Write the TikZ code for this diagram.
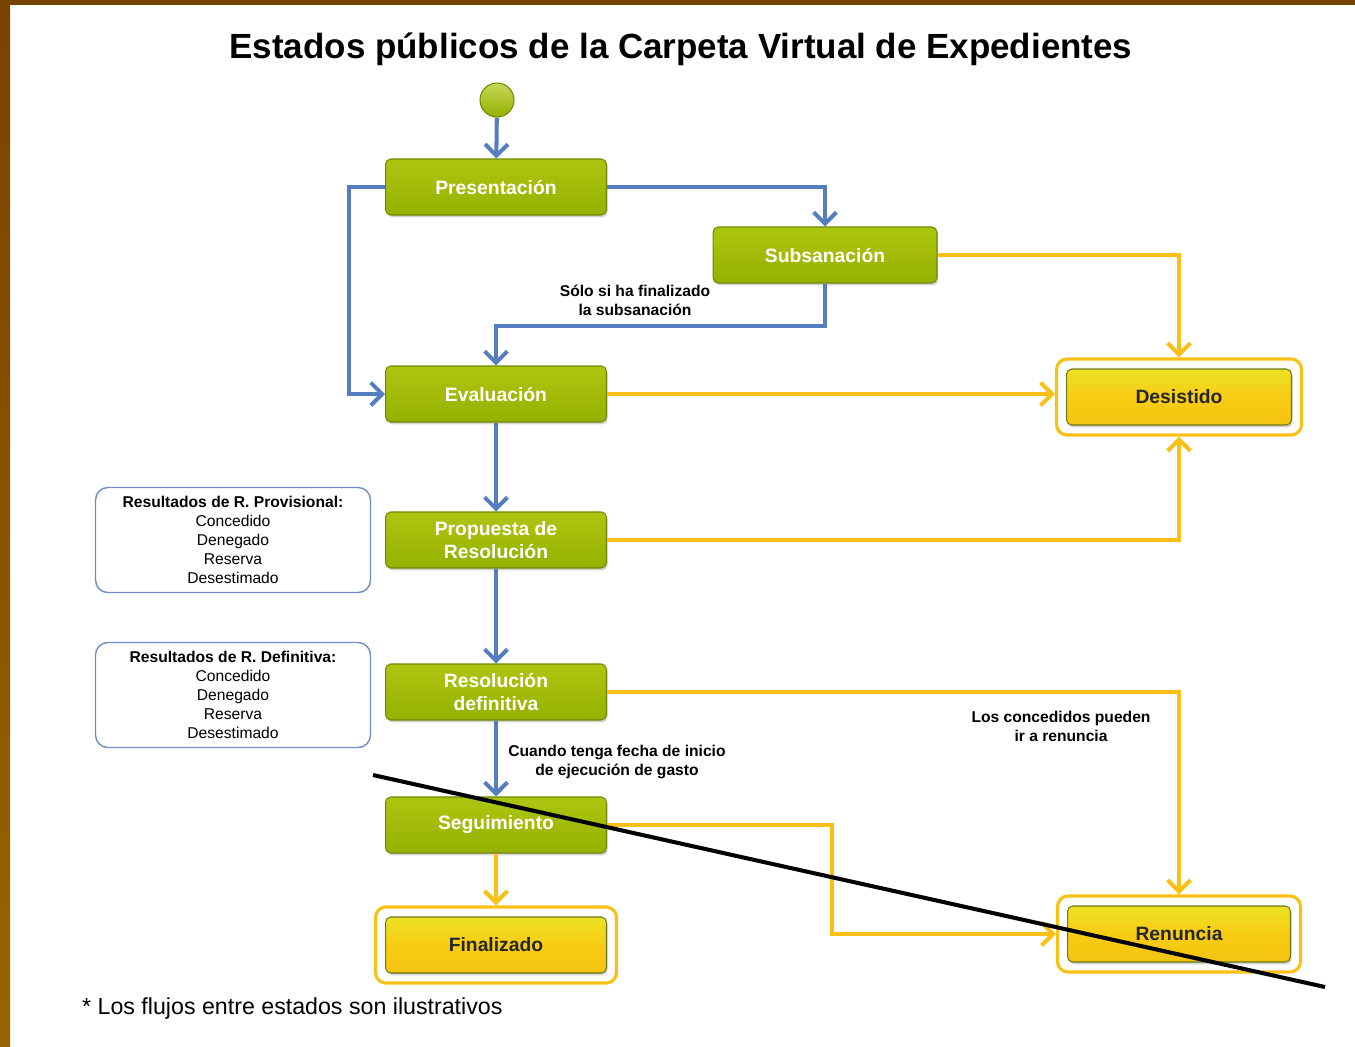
\documentclass[tikz,border=0pt]{standalone}
\usepackage{fontspec}
\setmainfont{Liberation Sans}
\usetikzlibrary{arrows.meta,shadows,fit}
\definecolor{greentop}{RGB}{172,198,16}
\definecolor{greenbot}{RGB}{150,176,0}
\definecolor{greenedge}{RGB}{112,136,0}
\definecolor{yellowtop}{RGB}{236,226,36}
\definecolor{yellowmid}{RGB}{248,204,20}
\definecolor{yellowbot}{RGB}{244,196,16}
\definecolor{yellowedge}{RGB}{110,120,20}
\definecolor{flowblue}{RGB}{84,126,192}
\definecolor{flowyellow}{RGB}{250,192,22}
\definecolor{noteblue}{RGB}{112,140,200}
\definecolor{framebrown}{RGB}{118,68,0}
\definecolor{framelight}{RGB}{152,100,0}
\begin{document}
\begin{tikzpicture}[
  x=0.02cm, y=-0.02cm,
  state/.style={rectangle, rounded corners=3pt, draw=greenedge, line width=0.6pt,
    top color=greentop, bottom color=greenbot, minimum width=4.42cm, minimum height=1.12cm,
    align=center, text=white, font=\fontsize{11}{13}\selectfont\bfseries,
    drop shadow={shadow xshift=0.7pt, shadow yshift=-1.3pt, opacity=0.35}},
  endstate/.style={state, draw=yellowedge, top color=yellowtop, bottom color=yellowbot,
    middle color=yellowmid, text=black!85},
  ring/.style={rectangle, rounded corners=6pt, draw=flowyellow, line width=1.8pt, inner sep=0.19cm},
  resbox/.style={rectangle, rounded corners=7pt, draw=noteblue, line width=0.8pt,
    minimum width=5.5cm, minimum height=2.1cm, align=center,
    font=\fontsize{8.9}{10.8}\selectfont},
  note/.style={align=center, font=\fontsize{8.9}{10.8}\selectfont\bfseries},
  flow/.style={draw=flowblue, line width=2.3pt, -{Straight Barb[length=6.5pt,width=13pt]}},
  yflow/.style={flow, draw=flowyellow}
]
\useasboundingbox (0,0) rectangle (1355,1046);
% Frame
\fill[framebrown] (0,0) rectangle (1355,5);
\shade[top color=framebrown, bottom color=framelight] (0,0) rectangle (10,1046);

% Title
\node[font=\fontsize{19.9}{22}\selectfont\bfseries] (title) at (681,49) {Estados públicos de la Carpeta Virtual de Expedientes};

% States
\node[circle, draw=greenedge, line width=0.6pt, top color=greentop!70!white, bottom color=greenbot,
  minimum size=0.68cm, inner sep=0pt] (start) at (497,100) {};
\node[state] (pres) at (496,187) {Presentación};
\node[state, minimum width=4.48cm] (subs) at (825,255) {Subsanación};
\node[state] (eval) at (496,394) {Evaluación};
\node[state] (prop) at (496,540) {Propuesta de\\Resolución};
\node[state] (resol) at (496,692) {Resolución\\definitiva};
\node[state] (seg) at (496,825) {Seguimiento};
\node[endstate] (fin) at (496,945) {Finalizado};
\node[endstate, minimum width=4.5cm] (desis) at (1179,397) {Desistido};
\node[endstate, minimum width=4.46cm] (renun) at (1179,934) {Renuncia};
\node[ring, fit=(fin)] (finring) {};
\node[ring, fit=(desis)] (desisring) {};
\node[ring, fit=(renun)] (renring) {};

% Result boxes
\node[resbox] (provbox) at (233,540) {\textbf{Resultados de R. Provisional:}\\Concedido\\Denegado\\Reserva\\Desestimado};
\node[resbox] (defbox) at (233,695) {\textbf{Resultados de R. Definitiva:}\\Concedido\\Denegado\\Reserva\\Desestimado};

% Main flow
\draw[flow] (start) -- (pres);
\draw[flow] (pres.east) -| (subs.north);
\draw[flow] (pres.west) -- ++(-36,0) |- (eval.west);
\draw[flow] (subs.south) -- ++(0,42) -| (eval.north);
\draw[flow] (eval) -- (prop);
\draw[flow] (prop) -- (resol);
\draw[flow] (resol) -- (seg);

% Exits
\draw[yflow] (subs.east) -| (desisring.north);
\draw[yflow] (eval.east) -- (eval.east -| desisring.west);
\draw[yflow] (prop.east) -| (desisring.south);
\draw[yflow] (resol.east) -| (renring.north);
\draw[yflow] (seg.east) -- ++(225,0) |- (renring.west);
\draw[yflow] (seg) -- (finring);

% Labels
\node[note] (subsnote) at (635,300) {Sólo si ha finalizado\\la subsanación};
\node[note] (segnote) at (617,762) {Cuando tenga fecha de inicio\\de ejecución de gasto};
\node[note] (rennote) at (1061,726) {Los concedidos pueden\\ir a renuncia};
\node[anchor=west, font=\fontsize{13.2}{15}\selectfont] (footnote) at (76,1008) {* Los flujos entre estados son ilustrativos};

% Stroke across
\coordinate (slashA) at (373,775);
\coordinate (slashB) at (1325,987);
\draw[line width=2.3pt] (slashA) -- (slashB);
\end{tikzpicture}
\end{document}
